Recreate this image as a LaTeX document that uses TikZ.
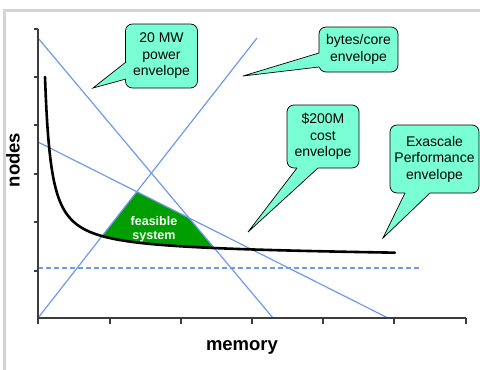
\documentclass[tikz,border=0pt]{standalone}
\usepackage{fontspec}
\setmainfont{Liberation Sans}
\definecolor{callfill}{RGB}{122,255,212}
\definecolor{envblue}{RGB}{112,152,238}
\definecolor{feasgreen}{RGB}{0,158,0}
\definecolor{framegray}{RGB}{212,212,212}
\definecolor{axisgray}{RGB}{60,60,60}
\begin{document}
\begin{tikzpicture}[x=1pt,y=-1pt,
  callbox/.style={draw=black, line width=0.7pt, fill=callfill, rounded corners=7pt,
    align=center, font=\fontsize{14}{16.5}\selectfont, inner sep=0pt, shape=rectangle},
  callptr/.style={fill=callfill},
  calledge/.style={draw=black, line width=0.7pt, line join=miter},
  envline/.style={envblue, line width=1.2pt},
  axisline/.style={axisgray, line width=1.2pt},
  ticks/.style={axisgray, line width=1.1pt},
  axlabel/.style={font=\bfseries\fontsize{18.5}{20}\selectfont, inner sep=0pt},
  curveline/.style={black, line width=2.6pt, line cap=round}]
\useasboundingbox (0,0) rectangle (480,370);
% frame
\draw[framegray, line width=2.5pt] (4.5,372) -- (4.5,10.5) -- (482,10.5);
% coordinates
\coordinate (O) at (38,318);
\coordinate (Ytop) at (38,29);
\coordinate (Xend) at (466,318);
\coordinate (L1a) at (38,38);   \coordinate (L1b) at (273,318);
\coordinate (L2a) at (38,142);  \coordinate (L2b) at (388,318);
\coordinate (L3a) at (38,318);  \coordinate (L3b) at (257,38);
\coordinate (Da) at (38,268);   \coordinate (Db) at (422,268);
% feasible region
\fill[feasgreen] (102,236) -- (136.8,191.7) -- (189,217.9) -- (214.2,248)
  -- plot[domain=214.2:102, samples=60] (\x, {252.5 - 1091/(\x-38.8) + 0.0082*\x}) -- cycle;
\node[white, align=center, font=\bfseries\fontsize{12.5}{14}\selectfont, inner sep=0pt] (feas) at (154,229) {feasible\\system};
% envelope lines
\draw[envline] (L1a) -- (L1b);
\draw[envline] (L2a) -- (L2b);
\draw[envline] (L3a) -- (L3b);
\draw[envline, dash pattern=on 5pt off 3pt] (Da) -- (Db);
% curve
\draw[curveline] plot[domain=45:395, samples=500] (\x, {252.5 - 1091/(\x-38.8) + 0.0082*\x});
% axes
\draw[axisline] (Ytop) -- (O) -- (Xend);
\foreach \yy in {29,77,125,174,222,271} \draw[ticks] (34,\yy) -- (38,\yy);
\foreach \xx in {38,110,181,252,323,394,466} \draw[ticks] (\xx,318) -- (\xx,323.5);
\node[axlabel, rotate=90] (ylab) at (13,160) {nodes};
\node[axlabel] (xlab) at (242,347) {memory};
% callout A
\node[callbox, minimum width=72pt, minimum height=64pt] (cA) at (161.5,56) {20 MW\\power\\envelope};
\coordinate (tA) at (93,88);
\fill[callptr] (126,62) -- (tA) -- (126,79) -- (128,79) -- (128,62) -- cycle;
\draw[calledge] (126,62) -- (tA) -- (126,79);
% callout B
\node[callbox, minimum width=79pt, minimum height=45pt] (cB) at (358.5,49.5) {bytes/core\\envelope};
\coordinate (tB) at (243,76);
\fill[callptr] (319,53) -- (tB) -- (319,67) -- (321,67) -- (321,53) -- cycle;
\draw[calledge] (319,53) -- (tB) -- (319,67);
% callout C
\node[callbox, minimum width=72pt, minimum height=63pt] (cC) at (323,136.5) {\$200M\\cost\\envelope};
\coordinate (tC) at (248,232);
\fill[callptr] (297,168) -- (tC) -- (318,168) -- (318,166) -- (297,166) -- cycle;
\draw[calledge] (297,168) -- (tC) -- (318,168);
% callout D
\node[callbox, minimum width=89pt, minimum height=68pt] (cD) at (434.5,159) {Exascale\\Performance\\envelope};
\coordinate (tD) at (383,238);
\fill[callptr] (405,193) -- (tD) -- (430,193) -- (430,191) -- (405,191) -- cycle;
\draw[calledge] (405,193) -- (tD) -- (430,193);
\end{tikzpicture}
\end{document}
